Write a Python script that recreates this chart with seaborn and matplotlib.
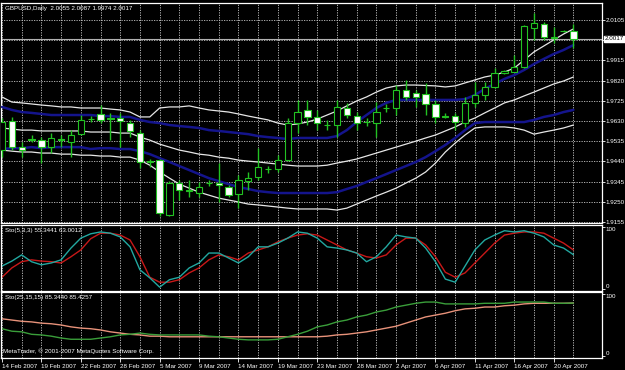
import numpy as np
import pandas as pd

import matplotlib
matplotlib.use('Agg')

import matplotlib.pyplot as plt
import seaborn as sns

# GBPUSD daily candles (bar 0 = 14 Feb 2007)
opens = [1.9493, 1.9630, 1.9507, 1.9543, 1.9540, 1.9507, 1.9545, 1.9531, 1.9568, 1.9639,
         1.9663, 1.9644, 1.9644, 1.9620, 1.9573, 1.9441, 1.9446, 1.9188, 1.9338, 1.9305,
         1.9291, 1.9338, 1.9338, 1.9319, 1.9286, 1.9347, 1.9366, 1.9404, 1.9404, 1.9446,
         1.9620, 1.9682, 1.9649, 1.9611, 1.9611, 1.9691, 1.9653, 1.9625, 1.9620, 1.9691,
         1.9691, 1.9776, 1.9762, 1.9757, 1.9710, 1.9653, 1.9653, 1.9620, 1.9715, 1.9752,
         1.9790, 1.9856, 1.9860, 1.9884, 2.0067, 2.0086, 2.0020, 2.0053, 2.0055]
highs = [1.9644, 1.9649, 1.9531, 1.9564, 1.9554, 1.9573, 1.9564, 1.9587, 1.9658, 1.9653,
         1.9705, 1.9668, 1.9668, 1.9635, 1.9587, 1.9451, 1.9451, 1.9347, 1.9352, 1.9352,
         1.9343, 1.9352, 1.9432, 1.9328, 1.9376, 1.9390, 1.9502, 1.9418, 1.9469, 1.9644,
         1.9729, 1.9729, 1.9682, 1.9635, 1.9729, 1.9715, 1.9672, 1.9644, 1.9719, 1.9710,
         1.9799, 1.9823, 1.9776, 1.9809, 1.9729, 1.9668, 1.9668, 1.9743, 1.9813, 1.9813,
         1.9879, 1.9870, 1.9940, 2.0081, 2.0138, 2.0096, 2.0072, 2.0058, 2.0087]
lows = [1.9460, 1.9493, 1.9460, 1.9531, 1.9432, 1.9479, 1.9507, 1.9460, 1.9564, 1.9625,
        1.9620, 1.9540, 1.9507, 1.9554, 1.9408, 1.9413, 1.9183, 1.9183, 1.9258, 1.9272,
        1.9272, 1.9324, 1.9249, 1.9272, 1.9220, 1.9305, 1.9352, 1.9385, 1.9390, 1.9441,
        1.9573, 1.9611, 1.9587, 1.9587, 1.9554, 1.9644, 1.9587, 1.9606, 1.9554, 1.9672,
        1.9658, 1.9729, 1.9696, 1.9658, 1.9620, 1.9644, 1.9587, 1.9602, 1.9696, 1.9729,
        1.9785, 1.9851, 1.9860, 1.9879, 2.0011, 2.0011, 1.9997, 2.0049, 1.9974]
closes = [1.9625, 1.9507, 1.9493, 1.9541, 1.9507, 1.9550, 1.9540, 1.9564, 1.9635, 1.9637,
          1.9635, 1.9639, 1.9630, 1.9583, 1.9437, 1.9437, 1.9197, 1.9338, 1.9305, 1.9300,
          1.9319, 1.9336, 1.9328, 1.9281, 1.9352, 1.9361, 1.9413, 1.9406, 1.9446, 1.9620,
          1.9672, 1.9649, 1.9620, 1.9609, 1.9696, 1.9658, 1.9620, 1.9623, 1.9672, 1.9689,
          1.9776, 1.9743, 1.9743, 1.9710, 1.9649, 1.9651, 1.9625, 1.9715, 1.9752, 1.9790,
          1.9856, 1.9865, 1.9884, 2.0077, 2.0091, 2.0025, 2.0025, 2.0055, 2.0017]

# bands drawn on the price chart
bb_upper = [1.9743, 1.9719, 1.9715, 1.9710, 1.9705, 1.9701, 1.9696, 1.9696, 1.9691, 1.9691,
            1.9691, 1.9686, 1.9682, 1.9672, 1.9649, 1.9649, 1.9691, 1.9696, 1.9696, 1.9701,
            1.9691, 1.9682, 1.9677, 1.9672, 1.9663, 1.9653, 1.9644, 1.9635, 1.9620, 1.9611,
            1.9616, 1.9625, 1.9639, 1.9658, 1.9677, 1.9701, 1.9724, 1.9743, 1.9766, 1.9785,
            1.9795, 1.9799, 1.9799, 1.9797, 1.9795, 1.9790, 1.9795, 1.9809, 1.9823, 1.9837,
            1.9846, 1.9860, 1.9879, 1.9917, 1.9955, 1.9983, 2.0011, 2.0039, 2.0063]
env_upper = [1.9696, 1.9682, 1.9672, 1.9668, 1.9663, 1.9658, 1.9658, 1.9658, 1.9658, 1.9658,
             1.9653, 1.9653, 1.9649, 1.9649, 1.9635, 1.9625, 1.9620, 1.9611, 1.9606, 1.9602,
             1.9597, 1.9587, 1.9583, 1.9578, 1.9573, 1.9568, 1.9559, 1.9554, 1.9550, 1.9545,
             1.9550, 1.9550, 1.9550, 1.9550, 1.9559, 1.9587, 1.9625, 1.9658, 1.9691, 1.9715,
             1.9729, 1.9729, 1.9729, 1.9729, 1.9729, 1.9729, 1.9729, 1.9733, 1.9752, 1.9781,
             1.9804, 1.9828, 1.9846, 1.9870, 1.9898, 1.9922, 1.9945, 1.9964, 1.9987]
bb_mid = [1.9597, 1.9592, 1.9587, 1.9587, 1.9583, 1.9583, 1.9583, 1.9583, 1.9583, 1.9578,
          1.9578, 1.9578, 1.9573, 1.9573, 1.9554, 1.9540, 1.9521, 1.9507, 1.9493, 1.9484,
          1.9474, 1.9469, 1.9460, 1.9455, 1.9446, 1.9441, 1.9437, 1.9432, 1.9427, 1.9422,
          1.9418, 1.9418, 1.9418, 1.9422, 1.9432, 1.9441, 1.9451, 1.9465, 1.9479, 1.9493,
          1.9507, 1.9521, 1.9535, 1.9550, 1.9564, 1.9583, 1.9602, 1.9625, 1.9644, 1.9668,
          1.9691, 1.9715, 1.9729, 1.9748, 1.9766, 1.9785, 1.9804, 1.9818, 1.9837]
env_lower = [1.9498, 1.9502, 1.9502, 1.9507, 1.9502, 1.9507, 1.9507, 1.9507, 1.9507, 1.9498,
             1.9502, 1.9502, 1.9498, 1.9498, 1.9488, 1.9474, 1.9455, 1.9437, 1.9418, 1.9399,
             1.9380, 1.9361, 1.9347, 1.9333, 1.9319, 1.9310, 1.9300, 1.9295, 1.9291, 1.9291,
             1.9291, 1.9291, 1.9291, 1.9291, 1.9295, 1.9310, 1.9324, 1.9343, 1.9361, 1.9380,
             1.9399, 1.9418, 1.9437, 1.9460, 1.9488, 1.9517, 1.9550, 1.9587, 1.9620, 1.9625,
             1.9625, 1.9625, 1.9625, 1.9625, 1.9635, 1.9649, 1.9658, 1.9672, 1.9682]
bb_lower = [1.9493, 1.9488, 1.9484, 1.9484, 1.9479, 1.9479, 1.9474, 1.9474, 1.9469, 1.9469,
            1.9465, 1.9465, 1.9460, 1.9460, 1.9446, 1.9422, 1.9390, 1.9361, 1.9333, 1.9314,
            1.9295, 1.9281, 1.9267, 1.9258, 1.9249, 1.9239, 1.9235, 1.9230, 1.9225, 1.9220,
            1.9216, 1.9216, 1.9216, 1.9216, 1.9211, 1.9220, 1.9239, 1.9258, 1.9277, 1.9295,
            1.9314, 1.9338, 1.9361, 1.9390, 1.9432, 1.9484, 1.9526, 1.9564, 1.9597, 1.9602,
            1.9602, 1.9602, 1.9597, 1.9587, 1.9568, 1.9578, 1.9587, 1.9597, 1.9611]

# Stochastic(5,3,3)
sto_fast_main = [37, 45, 55, 44, 39, 42, 47, 66, 82, 89, 92, 90, 84, 68, 31, 18, 3, 15, 19, 34,
                 42, 58, 58, 50, 42, 52, 68, 68, 74, 82, 92, 90, 82, 68, 66, 63, 58, 44, 52, 68,
                 87, 84, 82, 66, 44, 16, 11, 37, 63, 79, 87, 94, 92, 94, 90, 84, 71, 66, 55.34]
sto_fast_signal = [19, 34, 44, 47, 45, 44, 42, 52, 63, 81, 90, 90, 87, 79, 52, 19, 11, 11, 15, 26,
                   34, 47, 55, 52, 47, 58, 63, 68, 76, 82, 87, 89, 87, 79, 71, 63, 58, 52, 50, 55,
                   71, 82, 82, 71, 52, 27, 19, 26, 42, 58, 74, 87, 90, 92, 92, 90, 82, 74, 63.0]
# Stochastic(25,15,15)
sto_slow_main = [44, 40, 39, 35, 34, 32, 29, 27, 27, 27, 29, 31, 34, 35, 37, 35, 34, 34, 34, 34,
                 34, 32, 31, 29, 27, 26, 26, 26, 27, 31, 35, 40, 47, 50, 55, 58, 63, 66, 71, 74,
                 79, 82, 85, 87, 87, 84, 84, 84, 84, 85, 85, 85, 87, 87, 87, 87, 85, 85, 85.34]
sto_slow_signal = [60, 58, 56, 55, 53, 52, 50, 47, 45, 44, 42, 39, 37, 35, 34, 32, 32, 31, 31, 31,
                   31, 31, 31, 31, 31, 31, 31, 31, 31, 31, 31, 31, 31, 32, 34, 35, 37, 39, 42, 45,
                   48, 53, 58, 63, 66, 69, 73, 76, 77, 79, 79, 81, 82, 84, 85, 85, 85, 85, 85.43]

price_levels = [1.9155, 1.9250, 1.9345, 1.9440, 1.9535, 1.9630, 1.9725, 1.9820, 1.9915, 2.0010, 2.0105]
last_price = 2.0017
date_labels = ["14 Feb 2007", "19 Feb 2007", "22 Feb 2007", "28 Feb 2007", "5 Mar 2007",
               "9 Mar 2007", "14 Mar 2007", "19 Mar 2007", "23 Mar 2007", "28 Mar 2007",
               "2 Apr 2007", "6 Apr 2007", "11 Apr 2007", "16 Apr 2007", "20 Apr 2007"]

sns.set_theme(style="dark", rc={"axes.facecolor": "black", "figure.facecolor": "black"})
plt.rcParams['font.family'] = ['Liberation Sans', 'DejaVu Sans']

bars = np.arange(len(opens))
df = pd.DataFrame({"bar": bars, "open": opens, "high": highs, "low": lows, "close": closes,
                   "bb_upper": bb_upper, "env_upper": env_upper, "bb_mid": bb_mid,
                   "env_lower": env_lower, "bb_lower": bb_lower,
                   "k5": sto_fast_main, "d5": sto_fast_signal,
                   "k25": sto_slow_main, "d25": sto_slow_signal})

W, H = 625, 370
fig = plt.figure(figsize=(W / 100, H / 100), dpi=100)
fig.patch.set_facecolor("black")


def frac(top, bottom):
    return [1 / W, (H - bottom) / H, 601 / W, (bottom - top) / H]


ax = fig.add_axes(frac(3, 223))
ax1 = fig.add_axes(frac(225, 291))
ax2 = fig.add_axes(frac(292, 358))

fs = 4.5
grid_kw = dict(color="#c8c8c8", lw=0.6, linestyle=(0, (1.5, 1.5)))
for a in (ax, ax1, ax2):
    a.set_facecolor("black")
    a.set_xlim(-0.1, 60.9)
    for s in a.spines.values():
        s.set_color("white")
        s.set_linewidth(0.9)
    a.set_xticks(np.arange(0, 57, 4))
    a.set_xticks(np.arange(2, 61, 4), minor=True)
    a.grid(True, axis="x", which="both", **grid_kw)
    a.yaxis.tick_right()
    a.tick_params(axis="y", colors="white", labelsize=fs, length=2, width=0.6, pad=0.8, right=True)
    a.tick_params(axis="x", which="both", length=0, labelbottom=False)

# main price panel
ax.set_ylim(1.9150, 2.0185)
ax.set_yticks(price_levels)
ax.set_yticklabels([f"{p:.4f}" if abs(p - 2.0010) > 1e-6 else "" for p in price_levels])
ax.grid(True, axis="y", **grid_kw)
ax.axhline(last_price, color="#b0b0b0", lw=0.8, zorder=2)

for col, colr, lw in [("bb_upper", "#e6e6e6", 0.9), ("bb_lower", "#e6e6e6", 0.9),
                      ("bb_mid", "#e6e6e6", 0.9),
                      ("env_upper", "#14148c", 1.8), ("env_lower", "#14148c", 1.8)]:
    sns.lineplot(data=df, x="bar", y=col, ax=ax, color=colr, lw=lw, legend=False, zorder=3)

green = "#22c222"
up = df["close"] >= df["open"]
ax.vlines(df["bar"], df["low"], df["high"], color=green, lw=1.0, zorder=4)
ax.bar(df["bar"], (df["close"] - df["open"]).abs(), bottom=df[["open", "close"]].min(axis=1),
       width=0.64, color=np.where(up, "black", "white"), edgecolor=green, lw=0.8, zorder=5)

ax.text(1.005, last_price, f"{last_price:.4f}", transform=ax.get_yaxis_transform(),
        fontsize=fs, color="black", va="center", ha="left",
        bbox=dict(boxstyle="square,pad=0.1", fc="white", ec="white"))
ax.text(0.006, 0.985, "GBPUSD,Daily  2.0055 2.0087 1.9974 2.0017", transform=ax.transAxes,
        color="white", fontsize=fs, va="top", ha="left")

# Stochastic panels
for a, k, d, ck, cd, label in [(ax1, "k5", "d5", "#22a8a0", "#c81818", "Sto(5,3,3) 55.3441 63.0012"),
                               (ax2, "k25", "d25", "#3a9e3a", "#e8927a", "Sto(25,15,15) 85.3440 85.4257")]:
    a.set_ylim(-3.2, 103.2)
    a.set_yticks([0, 100])
    a.set_yticklabels(["0", "100"])
    lo, hi = a.get_yticklabels()
    lo.set_va("bottom")
    hi.set_va("top")
    sns.lineplot(data=df, x="bar", y=d, ax=a, color=cd, lw=1.0, legend=False)
    sns.lineplot(data=df, x="bar", y=k, ax=a, color=ck, lw=1.0, legend=False)
    a.text(0.006, 0.95, label, transform=a.transAxes, color="white", fontsize=fs, va="top", ha="left")

for a in (ax, ax1, ax2):
    a.set_xlabel("")
    a.set_ylabel("")

ax2.text(0.004, 0.06, "MetaTrader, \u00a9 2001-2007 MetaQuotes Software Corp.", transform=ax2.transAxes,
         color="white", fontsize=fs, va="bottom", ha="left")

ax2.set_xticklabels(date_labels)
ax2.tick_params(axis="x", which="major", labelbottom=True, colors="white", labelsize=fs,
                length=3, width=0.6, pad=1.5, bottom=True)
for t in ax2.get_xticklabels():
    t.set_ha("left")

fig.savefig("out.png", dpi=100, facecolor="black")
plt.close(fig)
